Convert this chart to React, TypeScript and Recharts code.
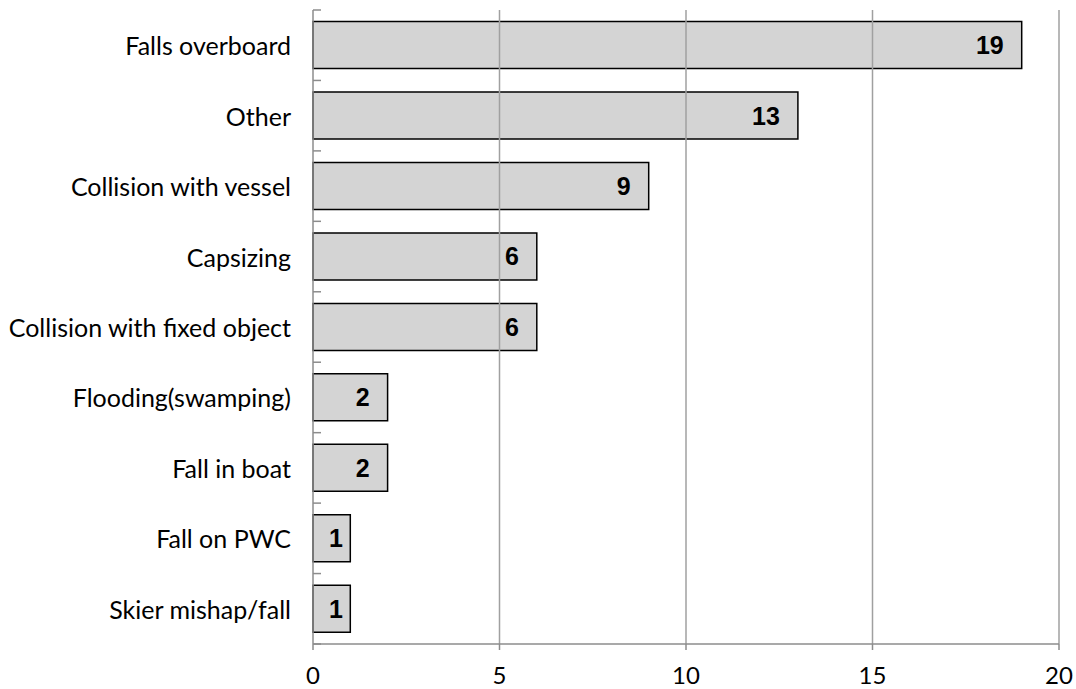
import * as React from "react";
import {
  BarChart,
  Bar,
  XAxis,
  YAxis,
  ReferenceLine,
  LabelList,
} from "recharts";

const categories = [
  "Falls overboard",
  "Other",
  "Collision with vessel",
  "Capsizing",
  "Collision with fixed object",
  "Flooding(swamping)",
  "Fall in boat",
  "Fall on PWC",
  "Skier mishap/fall",
];
const values = [19, 13, 9, 6, 6, 2, 2, 1, 1];
const xTicks = [0, 5, 10, 15, 20];

const data = categories.map((name, i) => ({ name, value: values[i] }));

const W = 1076;
const H = 689;
const xAxisHeight = 45;
const margin = { top: 10, right: 17, bottom: 0, left: 0 };
const axisWidth = 313;
const band = (H - margin.top - margin.bottom - xAxisHeight) / categories.length;
const axisColor = "#8c8c8c";
const gridColor = "#a0a0a0";
const labelFont = "Lato, 'Open Sans', sans-serif";

// category ticks sit on the band edges, label in the middle
function CategoryTick(props: any) {
  const { x, y, payload, index } = props;
  const top = y - band / 2;
  return (
    <g>
      <line x1={x + 8} x2={x + 16} y1={top} y2={top} stroke={axisColor} strokeWidth={1.5} />
      {index === categories.length - 1 && (
        <line x1={x + 8} x2={x + 16} y1={top + band} y2={top + band} stroke={axisColor} strokeWidth={1.5} />
      )}
      <text
        x={x - 14}
        y={y}
        textAnchor="end"
        dominantBaseline="central"
        fontSize={25}
        fontFamily={labelFont}
        fill="#000"
      >
        {payload.value}
      </text>
    </g>
  );
}

// value label near the bar end, kept inside short bars
function ValueLabel(props: any) {
  const { x, y, width, height, value } = props;
  const right = Math.max(x + width - 18, x + 30);
  return (
    <text
      x={right}
      y={y + height / 2}
      textAnchor="end"
      dominantBaseline="central"
      fontSize={25}
      fontWeight="bold"
      fontFamily="'Liberation Sans', Arial, sans-serif"
      fill="#000"
    >
      {value}
    </text>
  );
}

export default function App() {
  return (
    <div style={{ position: "absolute", left: 0, top: 0, background: "#fff" }}>
      <BarChart
        width={W}
        height={H}
        data={data}
        layout="vertical"
        margin={margin}
        barCategoryGap="16.5%"
      >
        <XAxis
          type="number"
          domain={[0, 20]}
          ticks={xTicks}
          interval={0}
          height={xAxisHeight}
          axisLine={{ stroke: axisColor, strokeWidth: 1.5 }}
          tickLine={{ stroke: axisColor, strokeWidth: 1.5 }}
          tickSize={6}
          tickMargin={17}
          tick={{ fontSize: 24, fill: "#000", fontFamily: labelFont }}
        />
        <YAxis
          type="category"
          dataKey="name"
          width={axisWidth}
          interval={0}
          tickLine={false}
          axisLine={{ stroke: axisColor, strokeWidth: 1.5 }}
          tick={<CategoryTick />}
        />
        <Bar
          dataKey="value"
          fill="#d4d4d4"
          stroke="#000"
          strokeWidth={1.5}
          isAnimationActive={false}
        >
          <LabelList dataKey="value" content={<ValueLabel />} />
        </Bar>
        {xTicks.slice(1).map((t) => (
          <ReferenceLine key={t} x={t} stroke={gridColor} strokeWidth={1.5} />
        ))}
      </BarChart>
    </div>
  );
}
